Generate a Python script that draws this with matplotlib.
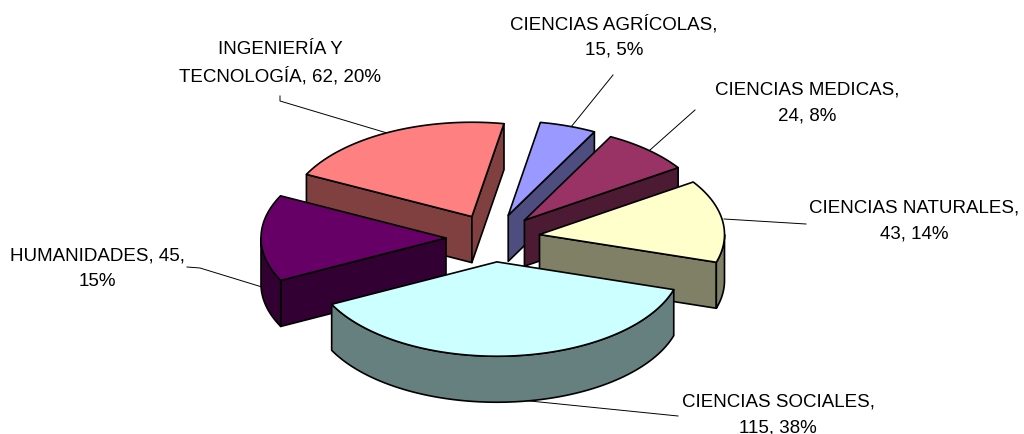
import numpy as np
import matplotlib
matplotlib.use("Agg")
import matplotlib.pyplot as plt
from matplotlib.patches import Polygon

plt.rcParams['font.family'] = ['Liberation Sans', 'DejaVu Sans']

# order is clockwise starting near 12 o'clock
categories = ["CIENCIAS AGRÍCOLAS", "CIENCIAS MEDICAS", "CIENCIAS NATURALES",
              "CIENCIAS SOCIALES", "HUMANIDADES", "INGENIERÍA Y TECNOLOGÍA"]
values = [15, 24, 43, 115, 45, 62]
percents = [5, 8, 14, 38, 15, 20]
top_colors = ["#9999FF", "#993366", "#FFFFCC", "#CCFFFF", "#660066", "#FF8080"]
side_colors = ["#4D4D80", "#4D1A33", "#808066", "#668080", "#330033", "#804040"]

label_texts = ["CIENCIAS AGRÍCOLAS,\n15, 5%", "CIENCIAS MEDICAS,\n24, 8%",
               "CIENCIAS NATURALES,\n43, 14%", "CIENCIAS SOCIALES,\n115, 38%",
               "HUMANIDADES, 45,\n15%", "INGENIERÍA Y\nTECNOLOGÍA, 62, 20%"]
label_pos = [(614, 36), (807, 102), (914, 220), (778, 414), (97, 268), (280, 62)]
leaders = [[(613, 75), (571, 127)],
           [(695, 110), (650, 150)],
           [(806, 224), (724, 219)],
           [(678, 416), (520, 400)],
           [(187, 267), (200, 268), (262, 287)],
           [(280, 96), (280, 101), (387, 133)]]

# pie geometry in pixels
cx, cy = 493, 238
radius = 185
squash = 0.51
explode = 47
depth = 46
start_angle = 10
edge = dict(edgecolor="black", linewidth=1.2, joinstyle="round")


def to_screen(angle, r):
    a = np.radians(angle)
    return r * np.sin(a), -r * np.cos(a) * squash


def draw_slice(ax, a1, a2, top, side):
    mid = (a1 + a2) / 2
    ox, oy = to_screen(mid, explode)
    ox, oy = cx + ox, cy + oy

    def arc(b1, b2):
        t = np.linspace(b1, b2, 80)
        x, y = to_screen(t, radius)
        return np.column_stack([ox + x, oy + y])

    apex = np.array([ox, oy])
    down = np.array([0, depth])

    # cut faces that look to the viewer
    for ang, visible in ((a1, np.sin(np.radians(a1)) < 0),
                         (a2, np.sin(np.radians(a2)) > 0)):
        if visible:
            x, y = to_screen(ang, radius)
            rim = apex + [x, y]
            ax.add_patch(Polygon([apex, rim, rim + down, apex + down],
                                 facecolor=side, **edge))

    # outer wall, only the front half of the circle
    b1, b2 = max(a1, 90), min(a2, 270)
    if b2 > b1:
        pts = arc(b1, b2)
        ax.add_patch(Polygon(np.vstack([pts, (pts + down)[::-1]]),
                             facecolor=side, **edge))

    ax.add_patch(Polygon(np.vstack([apex, arc(a1, a2)]), facecolor=top, **edge))


fig = plt.figure(figsize=(10.24, 4.34), dpi=100)
ax = fig.add_axes([0, 0, 1, 1])
ax.set_xlim(0, 1024)
ax.set_ylim(434, 0)
ax.axis("off")

for line in leaders:
    xs, ys = zip(*line)
    ax.plot(xs, ys, color="black", lw=0.7, zorder=0)

spans = np.array(values) / sum(values) * 360
starts = start_angle + np.concatenate([[0], np.cumsum(spans)[:-1]])

# back slices first, the big front one last
mids = starts + spans / 2
for i in np.argsort(np.cos(np.radians(mids)))[::-1]:
    draw_slice(ax, starts[i], starts[i] + spans[i], top_colors[i], side_colors[i])

for txt, (x, y) in zip(label_texts, label_pos):
    ax.text(x, y + 1, txt, ha="center", va="center", fontsize=13.5, linespacing=1.62,
            color="black", zorder=5)

fig.savefig("out.png", dpi=100)
